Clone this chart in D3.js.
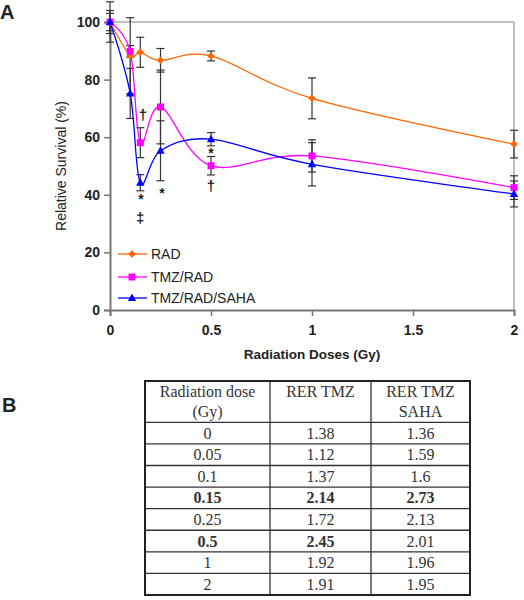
<!DOCTYPE html>
<html><head><meta charset="utf-8">
<script src="https://cdn.jsdelivr.net/npm/d3@7"></script>
<style>
body{margin:0;background:#fff;}
svg{display:block;}
</style></head>
<body>
<svg id="c" width="524" height="600"></svg>
<script>
// ---- data ----
const doses = [0, 0.1, 0.15, 0.25, 0.5, 1, 2];
const seriesNames = ["RAD", "TMZ/RAD", "TMZ/RAD/SAHA"];
const radValues = [100, 88.3, 89.5, 86.7, 88.2, 73.5, 57.6];
const radErrors = [3, 13.2, 5.2, 4.1, 1.7, 7.1, 4.8];
const tmzValues = [100, 89.8, 58.1, 70.5, 50.1, 53.5, 42.5];
const tmzErrors = [4, 2, 5.2, 12.8, 3.2, 5.6, 4.1];
const sahaValues = [100, 75.2, 44.2, 55.3, 59.3, 50.6, 40.3];
const sahaErrors = [7, 8.7, 2.8, 10.4, 2.3, 7.5, 4.5];
const yTicks = [0, 20, 40, 60, 80, 100];
const xTicks = [0, 0.5, 1, 1.5, 2];
// significance marks: [symbol, dose, survival-level]
const markSymbols = ["\u2020", "*", "\u2021", "*", "*", "\u2020"];
const markDoses = [0.163, 0.153, 0.149, 0.257, 0.5, 0.5];
const markLevels = [67.7, 39.5, 32.0, 41.7, 55.6, 43.1];
// table
const tableHeader = [["Radiation dose", "(Gy)"], ["RER TMZ"], ["RER TMZ", "SAHA"]];
const tableDose = ["0", "0.05", "0.1", "0.15", "0.25", "0.5", "1", "2"];
const tableRerTmz = ["1.38", "1.12", "1.37", "2.14", "1.72", "2.45", "1.92", "1.91"];
const tableRerSaha = ["1.36", "1.59", "1.6", "2.73", "2.13", "2.01", "1.96", "1.95"];
const boldDose = [false, false, false, true, false, true, false, false];
const boldTmz = [false, false, false, true, false, true, false, false];
const boldSaha = [false, false, false, true, false, false, false, false];

// ---- chart ----
const svg = d3.select("#c");
const sans = "'Liberation Sans', Arial, Helvetica, sans-serif";
const serif = "'Liberation Serif', 'Times New Roman', serif";
const L = 110, R = 514, T = 22, B = 310;
const x = d3.scaleLinear().domain([0, 2]).range([L, R]);
const y = d3.scaleLinear().domain([0, 100]).range([B, T]);

const colors = ["#FF6600", "#FF00FF", "#0000FF"];
const values = [radValues, tmzValues, sahaValues];
const errors = [radErrors, tmzErrors, sahaErrors];

svg.append("text").attr("x", 0).attr("y", 19).text("A")
  .attr("font-family", sans).attr("font-weight", "bold").attr("font-size", 20).attr("fill", "#222");
svg.append("text").attr("x", 2).attr("y", 412).text("B")
  .attr("font-family", sans).attr("font-weight", "bold").attr("font-size", 20).attr("fill", "#222");

// frame top/right
svg.append("line").attr("x1", L).attr("x2", R).attr("y1", T).attr("y2", T).attr("stroke", "#aaa").attr("stroke-width", 1.5);
svg.append("line").attr("x1", R).attr("x2", R).attr("y1", T).attr("y2", B).attr("stroke", "#aaa").attr("stroke-width", 1.5);

const yAxis = svg.append("g").attr("transform", `translate(${L},0)`)
  .call(d3.axisLeft(y).tickValues(yTicks).tickSize(6).tickPadding(4).tickFormat(d => d));
const xAxis = svg.append("g").attr("transform", `translate(0,${B})`)
  .call(d3.axisBottom(x).tickValues(xTicks).tickSize(6).tickPadding(9).tickFormat(d => d));
[yAxis, xAxis].forEach(a => {
  a.select(".domain").attr("stroke", "#777").attr("stroke-width", 2);
  a.selectAll(".tick line").attr("stroke", "#777").attr("stroke-width", 1.5);
  a.selectAll(".tick text").attr("font-family", sans).attr("font-size", 14)
    .attr("font-weight", "bold").attr("fill", "#222");
});

svg.append("text").attr("transform", `translate(66,${(T + B) / 2}) rotate(-90)`)
  .attr("text-anchor", "middle").text("Relative Survival (%)")
  .attr("font-family", sans).attr("font-size", 14).attr("fill", "#222");
svg.append("text").attr("x", 312).attr("y", 359).attr("text-anchor", "middle")
  .text("Radiation Doses (Gy)")
  .attr("font-family", sans).attr("font-size", 13.5).attr("font-weight", "bold").attr("fill", "#222");

// error bars
const eb = svg.append("g").attr("stroke", "#333").attr("stroke-width", 1.2);
values.forEach((vals, s) => {
  vals.forEach((v, i) => {
    const e = errors[s][i];
    const cx = x(doses[i]);
    eb.append("line").attr("x1", cx).attr("x2", cx).attr("y1", y(v + e)).attr("y2", y(v - e));
    [v + e, v - e].forEach(t => eb.append("line").attr("x1", cx - 4).attr("x2", cx + 4).attr("y1", y(t)).attr("y2", y(t)));
  });
});

const line = d3.line().x((d, i) => x(doses[i])).y(d => y(d)).curve(d3.curveCardinal.tension(0));
values.forEach((vals, s) => {
  svg.append("path").attr("d", line(vals)).attr("fill", "none")
    .attr("stroke", colors[s]).attr("stroke-width", 1.3);
});

function marker(g, s, cx, cy) {
  let p;
  if (s === 0) p = `M${cx},${cy - 3.8}L${cx + 3.8},${cy}L${cx},${cy + 3.8}L${cx - 3.8},${cy}Z`;
  else if (s === 1) p = `M${cx - 3.5},${cy - 3.5}h7v7h-7Z`;
  else p = `M${cx},${cy - 4.4}L${cx + 4.2},${cy + 3}L${cx - 4.2},${cy + 3}Z`;
  g.append("path").attr("d", p).attr("fill", colors[s]);
}
const mg = svg.append("g");
values.forEach((vals, s) => vals.forEach((v, i) => marker(mg, s, x(doses[i]), y(v))));

// significance symbols
markSymbols.forEach((sym, i) => {
  const isStar = sym === "*";
  svg.append("text").attr("x", x(markDoses[i])).attr("y", y(markLevels[i]) + (isStar ? 8 : 5))
    .attr("text-anchor", "middle").text(sym)
    .attr("font-family", sans).attr("font-size", isStar ? 14 : 15).attr("font-weight", "bold").attr("fill", "#222");
});

// legend
const legY = [254, 277, 298];
seriesNames.forEach((n, s) => {
  svg.append("line").attr("x1", 118).attr("x2", 147).attr("y1", legY[s]).attr("y2", legY[s])
    .attr("stroke", colors[s]).attr("stroke-width", 1.3);
  marker(svg, s, 132, legY[s]);
  svg.append("text").attr("x", 151).attr("y", legY[s] + 5).text(n)
    .attr("font-family", sans).attr("font-size", 14).attr("fill", "#222");
});

// ---- table ----
const colX = [145, 270, 371, 470];
const headTop = 381, headBot = 422.3, rowH = (595 - 422.3) / tableDose.length;
const tg = svg.append("g");
const rowsY = d3.range(tableDose.length + 1).map(i => headBot + i * rowH);
rowsY.slice(0, -1).forEach(ry => tg.append("line").attr("x1", colX[0]).attr("x2", colX[3]).attr("y1", ry).attr("y2", ry)
  .attr("stroke", "#333").attr("stroke-width", 1.3));
[colX[1], colX[2]].forEach(cx => tg.append("line").attr("x1", cx).attr("x2", cx).attr("y1", headTop).attr("y2", 595)
  .attr("stroke", "#333").attr("stroke-width", 1.3));
tg.append("rect").attr("x", colX[0]).attr("y", headTop).attr("width", colX[3] - colX[0]).attr("height", 595 - headTop)
  .attr("fill", "none").attr("stroke", "#222").attr("stroke-width", 2);
const centers = [0, 1, 2].map(c => (colX[c] + colX[c + 1]) / 2);
tableHeader.forEach((lines, c) => {
  lines.forEach((t, k) => tg.append("text").attr("x", centers[c]).attr("y", 397 + k * 20).attr("text-anchor", "middle")
    .text(t).attr("font-family", serif).attr("font-size", 16).attr("fill", "#333"));
});
const cols = [tableDose, tableRerTmz, tableRerSaha];
const bolds = [boldDose, boldTmz, boldSaha];
cols.forEach((col, c) => col.forEach((t, i) => {
  tg.append("text").attr("x", centers[c]).attr("y", rowsY[i] + rowH / 2 + 5.5).attr("text-anchor", "middle")
    .text(t).attr("font-family", serif).attr("font-size", 16)
    .attr("font-weight", bolds[c][i] ? "bold" : "normal").attr("fill", "#333");
}));
</script>
</body></html>
